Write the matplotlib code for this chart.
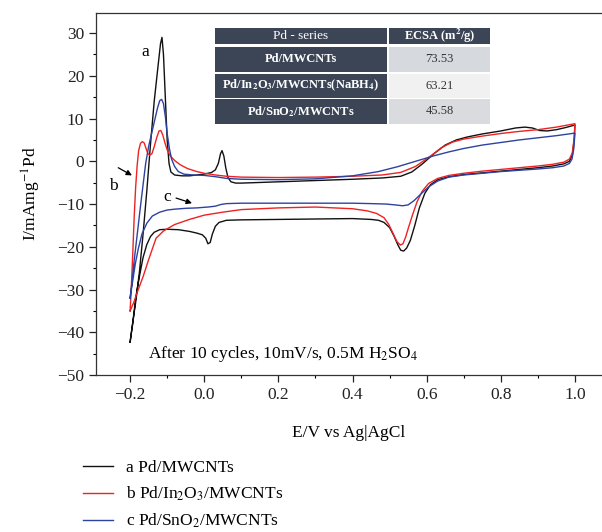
import matplotlib
matplotlib.use("Agg")
import matplotlib.pyplot as plt
from matplotlib.patches import Rectangle
from matplotlib.ticker import MultipleLocator

plt.rcParams['font.family'] = ['Liberation Serif', 'DejaVu Serif']
plt.rcParams['mathtext.fontset'] = 'stix'
plt.rcParams['axes.unicode_minus'] = True

# ---- curve a : Pd/MWCNTs (anodic sweep, then cathodic sweep) ----
e_a = [-0.200, -0.195, -0.185, -0.175, -0.165, -0.155, -0.145, -0.135, -0.125, -0.118, -0.114,
       -0.110, -0.105, -0.100, -0.095, -0.090, -0.080, -0.060, -0.040, -0.020, 0.000, 0.020,
       0.030, 0.038, 0.044, 0.048, 0.053, 0.058, 0.064, 0.072, 0.085, 0.100, 0.200, 0.300,
       0.400, 0.480, 0.530, 0.560, 0.590, 0.620, 0.650, 0.680, 0.710, 0.750, 0.800, 0.840,
       0.865, 0.885, 0.905, 0.925, 0.950, 0.975, 1.000,
       1.000, 0.998, 0.993, 0.985, 0.970, 0.940, 0.900, 0.850, 0.800, 0.750, 0.700, 0.660,
       0.630, 0.610, 0.595, 0.580, 0.568, 0.556, 0.546, 0.538, 0.530, 0.522, 0.512, 0.500,
       0.485, 0.470, 0.450, 0.400, 0.300, 0.200, 0.100, 0.060, 0.040, 0.030, 0.022, 0.016,
       0.010, 0.004, -0.005, -0.020, -0.040, -0.070, -0.100, -0.120, -0.135, -0.145, -0.155,
       -0.165, -0.175, -0.185, -0.193, -0.200]
i_a = [-42.3, -39, -33, -26, -17, -7, 4, 14, 22, 27.5, 29,
       25, 15, 5, -0.5, -2.5, -3.2, -3.4, -3.4, -3.2, -3, -2.6,
       -2, -0.5, 1.8, 2.5, 1.2, -1.5, -3.8, -4.8, -5.1, -5.1, -4.8, -4.5,
       -4.2, -3.9, -3.5, -2.5, -0.5, 1.8, 3.8, 5, 5.7, 6.4, 7.1, 7.8,
       8, 7.8, 7.2, 7.1, 7.4, 7.9, 8.5,
       8.5, 5, 1.5, 0, -0.6, -1.1, -1.5, -1.9, -2.3, -2.7, -3.1, -3.6,
       -4.3, -5.5, -7.5, -11, -15, -18.5, -20.3, -21, -20.8, -19.5, -17.5, -15.5,
       -14.3, -13.8, -13.6, -13.4, -13.5, -13.6, -13.7, -13.8, -14.3, -15.2, -17, -19,
       -19.3, -18, -17.2, -16.8, -16.4, -16, -15.9, -16, -16.6, -17.6, -19.5,
       -22.5, -27, -32, -38, -42.3]

# ---- curve b : Pd/In2O3/MWCNTs ----
e_b = [-0.200, -0.197, -0.193, -0.189, -0.185, -0.181, -0.177, -0.172, -0.167, -0.162, -0.157,
       -0.152, -0.147, -0.141, -0.135, -0.128, -0.122, -0.117, -0.112, -0.106, -0.100, -0.092,
       -0.080, -0.065, -0.045, -0.020, 0.000, 0.030, 0.060, 0.100, 0.200, 0.300, 0.400, 0.480,
       0.530, 0.570, 0.610, 0.640, 0.670, 0.700, 0.750, 0.800, 0.850, 0.900, 0.950, 1.000,
       1.000, 0.998, 0.993, 0.985, 0.970, 0.940, 0.900, 0.850, 0.800, 0.750, 0.700, 0.660,
       0.630, 0.605, 0.588, 0.574, 0.562, 0.551, 0.543, 0.536, 0.529, 0.520, 0.510, 0.498,
       0.485, 0.465, 0.440, 0.400, 0.300, 0.200, 0.100, 0.050, 0.000, -0.040, -0.080, -0.110,
       -0.130, -0.150, -0.165, -0.178, -0.190, -0.200]
i_b = [-35, -30, -22, -13, -6, -1, 2.5, 4.2, 4.6, 4.3, 3,
       1.8, 1.4, 1.8, 3.4, 5.6, 7.1, 7.2, 6.2, 4.3, 2.7, 1.3,
       0.2, -0.8, -1.7, -2.4, -2.8, -3.2, -3.5, -3.7, -3.8, -3.7, -3.5, -3.2,
       -2.6, -1.2, 1.2, 3.2, 4.5, 5.2, 5.9, 6.5, 7, 7.4, 8, 8.8,
       8.8, 5.5, 2, 0.5, -0.2, -0.7, -1.1, -1.5, -1.9, -2.3, -2.8, -3.3,
       -4, -5.2, -7, -9.5, -12.5, -15.5, -17.8, -19.3, -19.6, -18.8, -17, -14.8,
       -13.2, -12.2, -11.6, -11.1, -10.7, -10.9, -11.3, -11.9, -12.6, -13.6, -14.8, -16.3,
       -18, -23, -27, -30, -33, -35]

# ---- curve c : Pd/SnO2/MWCNTs ----
e_c = [-0.200, -0.196, -0.190, -0.184, -0.178, -0.172, -0.165, -0.158, -0.150, -0.142, -0.134,
       -0.126, -0.120, -0.115, -0.110, -0.105, -0.100, -0.094, -0.088, -0.080, -0.070, -0.055,
       -0.030, 0.000, 0.030, 0.060, 0.100, 0.200, 0.300, 0.400, 0.470, 0.520, 0.570, 0.620,
       0.660, 0.700, 0.750, 0.800, 0.850, 0.900, 0.950, 1.000,
       1.000, 0.997, 0.992, 0.985, 0.970, 0.940, 0.900, 0.850, 0.800, 0.750, 0.700, 0.660,
       0.630, 0.605, 0.585, 0.566, 0.550, 0.535, 0.515, 0.490, 0.450, 0.400, 0.300, 0.200,
       0.100, 0.060, 0.045, 0.030, 0.010, -0.020, -0.050, -0.080, -0.100, -0.120, -0.140,
       -0.155, -0.168, -0.178, -0.186, -0.193, -0.200]
i_c = [-32, -29, -24, -19.5, -15, -10.5, -5.5, -0.5, 3.5, 6.5, 9.5,
       12.5, 14.2, 14.5, 13.5, 10.5, 6.5, 3, 0.5, -1.2, -2.4, -3,
       -3.2, -3.3, -3.6, -4, -4.2, -4.3, -4.1, -3.4, -2.4, -1.3, 0, 1.3,
       2.2, 3, 3.8, 4.4, 5, 5.5, 6, 6.6,
       6.6, 3, 0.5, -0.5, -1.1, -1.5, -1.8, -2.1, -2.4, -2.8, -3.2, -3.7,
       -4.6, -6, -7.6, -9.2, -10.2, -10.4, -10.2, -10, -9.9, -9.8, -9.8, -9.8,
       -9.8, -9.9, -10.1, -10.5, -10.7, -10.9, -11, -11.2, -11.4, -11.9, -12.8,
       -14.5, -17, -20.5, -24, -28, -32]

labels = ["a Pd/MWCNTs", r"b Pd/In$_2$O$_3$/MWCNTs", r"c Pd/SnO$_2$/MWCNTs"]
colors = ["#111111", "#ee2222", "#2e42a0"]

# inset table
table_header = ["Pd - series", r"ECSA (m$^\mathbf{2}$/g)"]
table_names = ["Pd/MWCNTs", r"Pd/In$_\mathbf{2}$O$_\mathbf{3}$/MWCNTs(NaBH$_\mathbf{4}$)",
               r"Pd/SnO$_\mathbf{2}$/MWCNTs"]
table_ecsa = ["73.53", "63.21", "45.58"]

W, H = 602, 532
fig = plt.figure(figsize=(W / 100, H / 100), dpi=100)
ax = fig.add_axes([96 / W, 1 - 375 / H, 1 - 96 / W, (375 - 13) / H])

for e, i, c, lab in zip([e_a, e_b, e_c], [i_a, i_b, i_c], colors, labels):
    ax.plot(e, i, color=c, lw=1.0, label=lab)

ax.set_xlim(-0.292, 1.073)
ax.set_ylim(-50, 34.7)
ax.xaxis.set_major_locator(MultipleLocator(0.2))
ax.xaxis.set_minor_locator(MultipleLocator(0.1))
ax.yaxis.set_major_locator(MultipleLocator(10))
ax.yaxis.set_minor_locator(MultipleLocator(5))
ax.set_xticks([-0.2, 0.0, 0.2, 0.4, 0.6, 0.8, 1.0])
ax.set_xticklabels(["\u22120.2", "0.0", "0.2", "0.4", "0.6", "0.8", "1.0"])
ax.tick_params(which='major', direction='out', length=5, width=0.9, labelsize=12.5, colors='#222222')
ax.tick_params(which='minor', direction='out', length=2.5, width=0.8)
ax.spines['right'].set_visible(False)
for s in ['left', 'bottom', 'top']:
    ax.spines[s].set_linewidth(0.9)
    ax.spines[s].set_color('#333333')

ax.set_xlabel("E/V vs Ag|AgCl", fontsize=12.5, labelpad=16)
ax.set_ylabel(r"I/mAmg$^{-1}$Pd", fontsize=12.5, labelpad=10)

ax.text(-0.152, -45.2, r"After 10 cycles, 10mV/s, 0.5M H$_2$SO$_4$", fontsize=12.5,
        ha='left', va='center')
ax.text(-0.16, 25.5, "a", fontsize=12.5, ha='center', va='center')
ax.text(-0.246, -5.8, "b", fontsize=12.5, ha='center', va='center')
ax.text(-0.10, -8.3, "c", fontsize=12.5, ha='center', va='center')
arrow = dict(arrowstyle='-|>', color='k', lw=0.9, mutation_scale=8, shrinkA=0, shrinkB=0)
ax.annotate("", xy=(-0.195, -3.3), xytext=(-0.232, -1.5), arrowprops=arrow)
ax.annotate("", xy=(-0.033, -9.8), xytext=(-0.076, -8.6), arrowprops=arrow)

# table drawn in figure pixels
dark = "#3c4556"
right_fill = ["#d6dade", "#f1f1f2", "#d9dbde"]
rows_y = [(47, 72), (73.5, 98), (99, 124)]


def cell(x0, y0, x1, y1, fc):
    fig.add_artist(Rectangle((x0 / W, 1 - y1 / H), (x1 - x0) / W, (y1 - y0) / H,
                             transform=fig.transFigure, facecolor=fc, edgecolor='none'))


cell(215, 28, 387, 44, dark)
cell(389, 28, 490, 44, dark)
fig.text(301 / W, 1 - 36 / H, table_header[0], color='white', fontsize=9.5, ha='center', va='center')
fig.text(439.5 / W, 1 - 36 / H, table_header[1], color='white', fontsize=9, fontweight='bold',
         ha='center', va='center')
for k, (y0, y1) in enumerate(rows_y):
    cell(215, y0, 387, y1, dark)
    cell(389, y0, 490, y1, right_fill[k])
    yc = 1 - (y0 + y1) / 2 / H
    fig.text(301 / W, yc, table_names[k], color='white', fontsize=9, fontweight='bold',
             ha='center', va='center')
    fig.text(439.5 / W, yc, table_ecsa[k], color='#333333', fontsize=9, ha='center', va='center')

fig.legend(loc='upper left', bbox_to_anchor=(83 / W, 1 - 460 / H), frameon=False,
           fontsize=12.5, handlelength=1.75, handletextpad=0.7, labelspacing=0.5,
           borderpad=0, borderaxespad=0)

fig.savefig("out.png", dpi=100)
